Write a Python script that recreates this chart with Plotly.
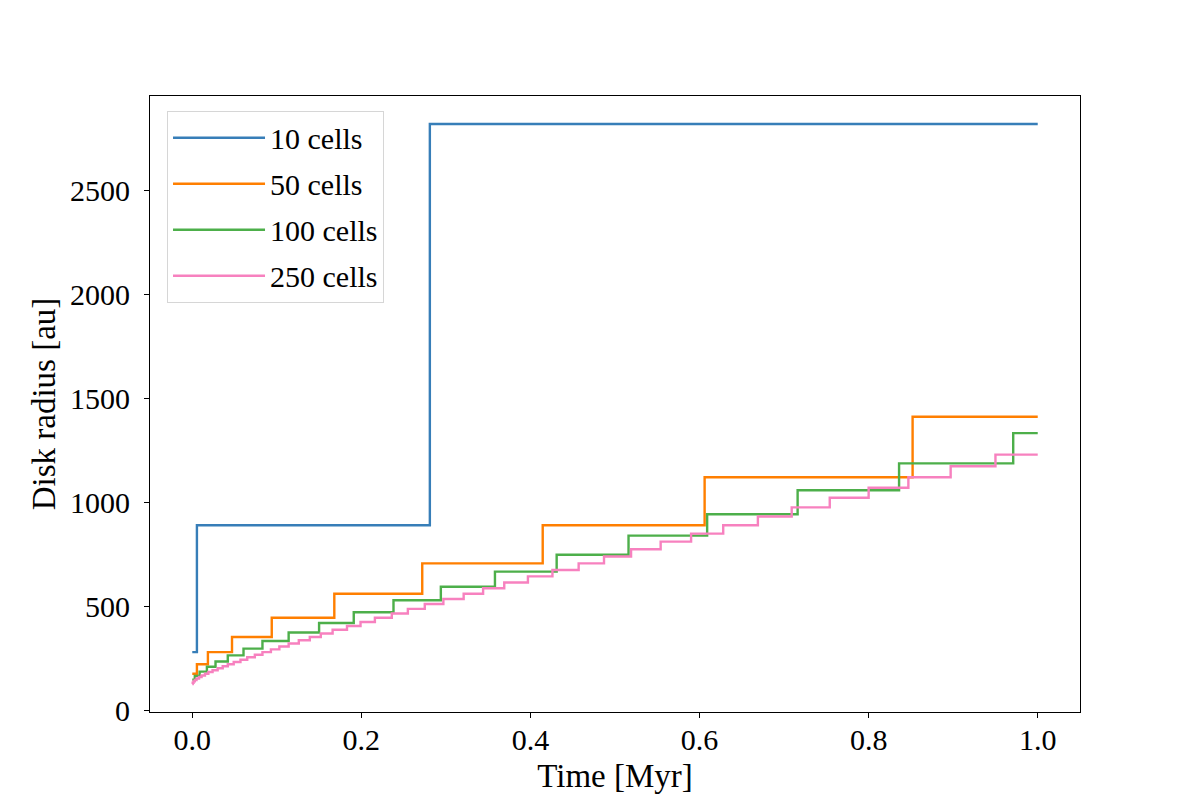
import plotly.graph_objects as go

# ---- data ----
t_10 = [0.0, 0.0055, 0.281, 1.0]
r_10 = [281.8, 891.3, 2818.4, 2818.4]

t_50 = [0.0, 0.0055, 0.0185, 0.047, 0.094, 0.168, 0.272, 0.4145, 0.606, 0.852, 1.0]
r_50 = [177.8, 223.9, 281.8, 354.8, 446.7, 562.3, 707.9, 891.3, 1122.0, 1412.5, 1412.5]

t_100 = [0.0, 0.003, 0.0087, 0.0173, 0.0275, 0.042, 0.0606, 0.083, 0.114, 0.150,
         0.191, 0.238, 0.294, 0.358, 0.431, 0.516, 0.609, 0.716, 0.836, 0.971, 1.0]
r_100 = [149.6, 167.9, 188.4, 211.3, 237.1, 266.1, 298.5, 335.0, 375.8, 421.7,
         473.2, 530.9, 595.7, 668.3, 749.9, 841.4, 944.1, 1059.3, 1188.5, 1333.5, 1333.5]

t_250 = [0.0, 0.0005, 0.0015, 0.003, 0.005, 0.008, 0.011, 0.015, 0.019, 0.024,
         0.030, 0.036, 0.042, 0.049, 0.057, 0.065, 0.074, 0.083, 0.093, 0.103,
         0.114, 0.126, 0.139, 0.152, 0.166, 0.183, 0.199, 0.216, 0.236, 0.255,
         0.275, 0.297, 0.321, 0.344, 0.369, 0.397, 0.426, 0.457, 0.487, 0.519,
         0.554, 0.590, 0.628, 0.669, 0.709, 0.754, 0.800, 0.847, 0.897, 0.950, 1.0]
r_250 = [128.8, 134.9, 141.3, 147.9, 154.9, 162.2, 169.8, 177.8, 186.2, 195.0,
         204.2, 213.8, 223.9, 234.4, 245.5, 257.0, 269.2, 281.8, 295.1, 309.0,
         323.6, 338.8, 354.8, 371.5, 389.0, 407.4, 426.6, 446.7, 467.7, 489.8,
         512.9, 537.0, 562.3, 588.8, 616.6, 645.7, 676.1, 707.9, 741.3, 776.2,
         812.8, 851.1, 891.3, 933.3, 977.2, 1023.3, 1071.5, 1122.0, 1174.9, 1230.3, 1230.3]

series_names = ["10 cells", "50 cells", "100 cells", "250 cells"]
series_t = [t_10, t_50, t_100, t_250]
series_r = [r_10, r_50, r_100, r_250]
colors = ["#377eb8", "#ff7f00", "#4daf4a", "#f781bf"]

x_ticks = [0.0, 0.2, 0.4, 0.6, 0.8, 1.0]
y_ticks = [0, 500, 1000, 1500, 2000, 2500]

FONT = "Liberation Serif, DejaVu Serif, serif"

fig = go.Figure()
for name, tt, rr, c in zip(series_names, series_t, series_r, colors):
    fig.add_trace(go.Scatter(
        x=tt, y=rr, mode="lines", name=name, legendgroup=name,
        line=dict(color=c, width=2.4, shape="hv"),
    ))

fig.update_layout(
    width=1200, height=800,
    margin=dict(l=150, r=120, t=96, b=88),
    paper_bgcolor="white", plot_bgcolor="white",
    font=dict(family=FONT, size=30, color="black"),
    showlegend=True,
    legend=dict(
        x=0.0183, y=0.976, xanchor="left", yanchor="top",
        bgcolor="rgba(255,255,255,0.8)", bordercolor="#d6d6d6", borderwidth=1,
        font=dict(family=FONT, size=30, color="black"),
        tracegroupgap=4, itemwidth=92,
    ),
)
fig.update_xaxes(
    range=[-0.05, 1.05], tickvals=x_ticks, tickformat=".1f",
    showline=True, mirror=True, linecolor="black", linewidth=1,
    ticks="outside", ticklen=5, tickwidth=1, tickcolor="black",
    showgrid=False, zeroline=False, ticklabelstandoff=-4,
    title=dict(text="Time [Myr]", font=dict(family=FONT, size=33), standoff=8),
    automargin=False,
)
fig.update_yaxes(
    range=[-5.7, 2952.9], tickvals=y_ticks,
    showline=True, mirror=True, linecolor="black", linewidth=1,
    ticks="outside", ticklen=5, tickwidth=1, tickcolor="black",
    showgrid=False, zeroline=False, ticklabelstandoff=8,
    title=dict(text="Disk radius [au]", font=dict(family=FONT, size=33), standoff=4),
    automargin=False,
)

fig.write_html("out.html")
